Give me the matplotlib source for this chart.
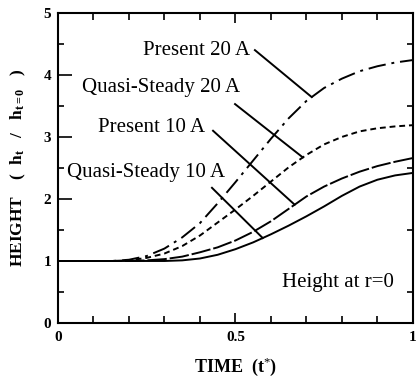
import numpy as np
import matplotlib
matplotlib.use('Agg')
import matplotlib.pyplot as plt
from matplotlib.ticker import MultipleLocator

plt.rcParams['font.family'] = ['Liberation Serif', 'DejaVu Serif']
plt.rcParams['mathtext.fontset'] = 'custom'
plt.rcParams['mathtext.rm'] = 'Liberation Serif'
plt.rcParams['mathtext.bf'] = 'Liberation Serif:bold'
plt.rcParams['mathtext.it'] = 'Liberation Serif:italic'

# time (t*) and height ratio at r=0
t = [0, .05, .1, .15, .2, .25, .3, .35, .4, .45, .5, .55, .6, .65, .7, .75, .8, .85, .9, .95, 1.0]
present_20 = [1, 1, 1, 1, 1.02, 1.08, 1.2, 1.38, 1.61, 1.93, 2.27, 2.62, 2.97, 3.3, 3.58, 3.79, 3.94, 4.06, 4.14, 4.2, 4.24]
quasi_20 = [1, 1, 1, 1, 1.01, 1.05, 1.12, 1.24, 1.41, 1.62, 1.83, 2.05, 2.28, 2.51, 2.71, 2.88, 3.0, 3.09, 3.14, 3.17, 3.19]
present_10 = [1, 1, 1, 1, 1, 1.01, 1.03, 1.07, 1.14, 1.22, 1.33, 1.47, 1.64, 1.84, 2.04, 2.2, 2.33, 2.44, 2.53, 2.6, 2.66]
quasi_10 = [1, 1, 1, 1, 1, 1, 1, 1.01, 1.04, 1.1, 1.19, 1.3, 1.43, 1.57, 1.72, 1.88, 2.05, 2.2, 2.31, 2.38, 2.42]

labels = ['Present 20 A', 'Quasi-Steady 20 A', 'Present 10 A', 'Quasi-Steady 10 A']

fig = plt.figure(figsize=(4.17, 3.80), dpi=100)
ax = fig.add_axes([0.139, 0.150, 0.851, 0.816])

lw = 1.4
ax.plot(t, present_20, color='black', lw=lw, linestyle=(0, (9, 3, 1.5, 3)))
ax.plot(t, quasi_20, color='black', lw=lw, linestyle=(0, (3, 2)))
ax.plot(t, present_10, color='black', lw=lw, linestyle=(0, (10, 1.5)))
ax.plot(t, quasi_10, color='black', lw=lw, linestyle='-')

# labels with leader lines pointing onto each curve
series = [present_20, quasi_20, present_10, quasi_10]
text_pos = [(0.24, 4.40), (0.068, 3.79), (0.113, 3.15), (0.025, 2.42)]
line_start = [(0.555, 4.40), (0.499, 3.53), (0.437, 3.10), (0.434, 2.18)]
target_t = [0.715, 0.69, 0.667, 0.577]
for lab, ys, tp, ls, tt in zip(labels, series, text_pos, line_start, target_t):
    ax.text(tp[0], tp[1], lab, fontsize=15, va='center', ha='left')
    ax.plot([ls[0], tt], [ls[1], np.interp(tt, t, ys)], color='black', lw=1.4)

ax.text(0.63, 0.66, 'Height at r=0', fontsize=15, va='center', ha='left')

ax.set_xlim(0, 1)
ax.set_ylim(0, 5)
ax.set_xticks([0, 0.5, 1])
ax.set_xticklabels(['0', '0.5', '1'])
ax.xaxis.set_minor_locator(MultipleLocator(0.1))
ax.set_yticks([0, 1, 2, 3, 4, 5])
ax.yaxis.set_minor_locator(MultipleLocator(0.5))
ax.tick_params(which='both', direction='in', top=True, right=True, width=1.2)
ax.tick_params(axis='x', which='major', length=7, pad=6)
ax.tick_params(axis='x', which='minor', length=5)
ax.tick_params(axis='y', which='major', length=10, pad=5)
ax.tick_params(axis='y', which='minor', length=4)
ax.tick_params(axis='y', which='major', right=False)
for lab in ax.get_xticklabels() + ax.get_yticklabels():
    lab.set_fontweight('bold')
    lab.set_fontsize(11)
for s in ax.spines.values():
    s.set_linewidth(1.5)

ax.set_xlabel(r'TIME  (t$^{*}$)', fontsize=13, fontweight='bold', labelpad=8)
ax.set_ylabel(r'HEIGHT    (  h$_\mathbf{t}$   /   h$_\mathbf{t=0}$   )', fontsize=12.5,
              fontweight='bold', labelpad=11)

fig.savefig('out.png', dpi=100)
